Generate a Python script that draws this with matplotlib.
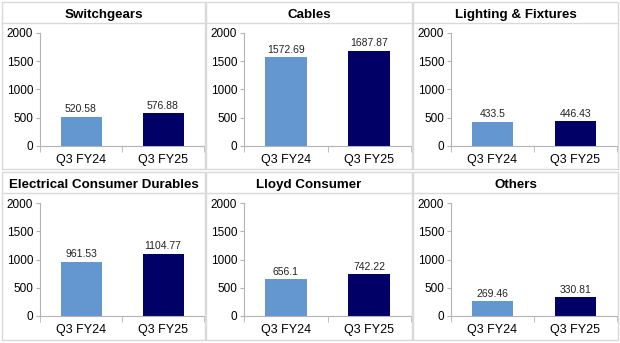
import matplotlib
matplotlib.use('Agg')
import matplotlib.pyplot as plt
from matplotlib.patches import Rectangle
from matplotlib.lines import Line2D

plt.rcParams['font.family'] = ['Liberation Sans', 'DejaVu Sans']

titles = ['Switchgears', 'Cables', 'Lighting & Fixtures',
          'Electrical Consumer Durables', 'Lloyd Consumer', 'Others']
periods = ['Q3 FY24', 'Q3 FY25']
fy24 = [520.58, 1572.69, 433.5, 961.53, 656.1, 269.46]
fy25 = [576.88, 1687.87, 446.43, 1104.77, 742.22, 330.81]
labels24 = ['520.58', '1572.69', '433.5', '961.53', '656.1', '269.46']
labels25 = ['576.88', '1687.87', '446.43', '1104.77', '742.22', '330.81']

W, H = 620, 343
fig = plt.figure(figsize=(W / 100, H / 100), dpi=100)
fig.patch.set_facecolor('white')

# panel boxes in pixels (x0, x1), (y0, y1) from top
cols = [(2, 205), (206, 412), (413, 618)]
rows = [(2, 169), (172, 340)]
edge = '#d9d9d9'

def px(x, y):
    return x / W, 1 - y / H

for i in range(6):
    r, c = divmod(i, 3)
    x0, x1 = cols[c]
    y0, y1 = rows[r]
    fig.patches.append(Rectangle(px(x0, y1), (x1 - x0) / W, (y1 - y0) / H,
                                 transform=fig.transFigure, fill=False,
                                 edgecolor=edge, lw=1))
    fig.lines.append(Line2D([x0 / W, x1 / W], [1 - (y0 + 21) / H] * 2,
                            transform=fig.transFigure, color=edge, lw=1))
    fig.text((x0 + x1) / 2 / W, 1 - (y0 + 13) / H, titles[i],
             ha='center', va='center', fontsize=9.6, fontweight='bold')

    # plot area
    ax_left = x0 + 38
    ax_right = x1 - 1
    top = y0 + 31
    bottom = y0 + 144
    l, b = px(ax_left, bottom)
    ax = fig.add_axes([l, b, (ax_right - ax_left) / W, (bottom - top) / H])
    ax.bar([0, 1], [fy24[i], fy25[i]], width=0.5,
           color=['#6497cf', '#000066'])
    for k, (v, t) in enumerate(zip([fy24[i], fy25[i]], [labels24[i], labels25[i]])):
        ax.text(k, v + 40, t, ha='center', va='bottom', fontsize=7.5,
                color='#222222')
    ax.set_ylim(0, 2000)
    ax.set_xlim(-0.5, 1.5)
    ax.set_yticks([0, 500, 1000, 1500, 2000])
    ax.set_xticks([0, 1])
    ax.set_xticklabels(periods)
    ax.tick_params(axis='y', length=3, color='#b3b3b3', labelsize=8.5, pad=2)
    ax.tick_params(axis='x', length=0, labelsize=9, pad=6)
    ax.set_xticks([-0.5, 0.5, 1.5], minor=True)
    ax.tick_params(axis='x', which='minor', length=4, color='#b3b3b3')
    for s in ['top', 'right']:
        ax.spines[s].set_visible(False)
    for s in ['left', 'bottom']:
        ax.spines[s].set_color('#b3b3b3')
        ax.spines[s].set_linewidth(0.8)
    ax.patch.set_alpha(0)

fig.savefig('out.png', dpi=100, facecolor='white')
